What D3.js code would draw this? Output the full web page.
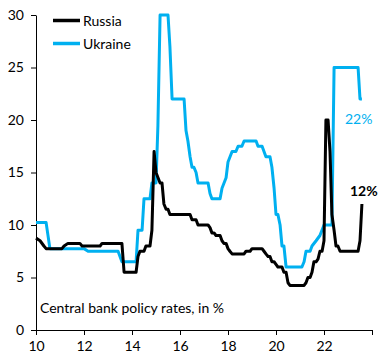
<!DOCTYPE html>
<html><head><meta charset="utf-8">
<script src="https://cdn.jsdelivr.net/npm/d3@7"></script>
<style>body{margin:0;background:#fff}svg{display:block}text{font-family:Lato,"Open Sans",sans-serif}</style>
</head><body>
<svg id="c" width="384" height="360"></svg>
<script>
const xTicks = [10, 12, 14, 16, 18, 20, 22, 24];
const xTickLabels = ["10", "12", "14", "16", "18", "20", "22", ""];
const yTicks = [0, 5, 10, 15, 20, 25, 30];
const seriesNames = ["Russia", "Ukraine"];
const seriesColors = ["#000000", "#00B0F0"];
const endLabels = ["12%", "22%"];
const title = "Central bank policy rates, in %";

// [year (decimal, 10 = 2010), rate %]
const russia = [[10.0,8.75],[10.17,8.5],[10.33,8.0],[10.42,7.75],[11.08,7.75],[11.17,8.0],[11.33,8.25],[11.83,8.25],[11.92,8.0],[12.67,8.0],[12.75,8.25],[13.58,8.25],[13.67,5.5],[14.17,5.5],[14.25,7.0],[14.33,7.5],[14.5,7.5],[14.58,8.0],[14.75,8.0],[14.83,9.5],[14.92,17.0],[15.0,15.0],[15.17,14.0],[15.25,14.0],[15.33,12.0],[15.42,11.5],[15.5,11.5],[15.58,11.0],[16.42,11.0],[16.5,10.5],[16.67,10.5],[16.75,10.0],[17.17,10.0],[17.25,9.75],[17.33,9.25],[17.42,9.25],[17.5,9.0],[17.67,9.0],[17.75,8.5],[17.83,8.25],[17.92,8.25],[18.0,7.75],[18.08,7.5],[18.17,7.25],[18.67,7.25],[18.75,7.5],[18.92,7.5],[19.0,7.75],[19.42,7.75],[19.5,7.5],[19.58,7.25],[19.67,7.0],[19.75,7.0],[19.83,6.5],[19.92,6.5],[20.0,6.25],[20.08,6.0],[20.25,6.0],[20.33,5.5],[20.42,5.5],[20.5,4.5],[20.58,4.25],[21.17,4.25],[21.25,4.5],[21.33,5.0],[21.42,5.0],[21.5,5.5],[21.58,6.5],[21.67,6.5],[21.75,6.75],[21.83,7.5],[21.92,7.5],[22.0,8.5],[22.08,20.0],[22.17,20.0],[22.25,17.0],[22.33,11.0],[22.42,9.5],[22.5,8.0],[22.58,8.0],[22.67,7.5],[23.42,7.5],[23.5,8.5],[23.58,12.0]];
const ukraine = [[10.0,10.25],[10.42,10.25],[10.58,7.75],[12.0,7.75],[12.17,7.5],[13.42,7.5],[13.5,7.0],[13.58,6.5],[14.17,6.5],[14.25,9.5],[14.42,9.5],[14.5,12.5],[14.75,12.5],[14.83,14.0],[15.0,14.0],[15.08,19.5],[15.17,30.0],[15.5,30.0],[15.58,27.0],[15.67,22.0],[16.17,22.0],[16.25,19.0],[16.33,18.0],[16.42,16.5],[16.5,15.5],[16.58,15.5],[16.67,15.0],[16.75,14.0],[17.17,14.0],[17.25,13.0],[17.33,12.5],[17.67,12.5],[17.75,13.5],[17.92,14.5],[18.0,16.0],[18.17,17.0],[18.33,17.0],[18.42,17.5],[18.58,17.5],[18.67,18.0],[19.17,18.0],[19.25,17.5],[19.42,17.5],[19.5,17.0],[19.58,16.5],[19.75,16.5],[19.83,15.5],[19.92,13.5],[20.0,11.0],[20.08,11.0],[20.17,10.0],[20.25,8.0],[20.33,8.0],[20.42,6.0],[21.08,6.0],[21.17,6.5],[21.25,7.5],[21.42,7.5],[21.5,8.0],[21.67,8.5],[21.83,9.0],[22.0,10.0],[22.33,10.0],[22.42,25.0],[23.42,25.0],[23.5,22.0],[23.58,22.0]];

const svg = d3.select("#c");
const x = d3.scaleLinear().domain([10, 24]).range([36, 372]);
const y = d3.scaleLinear().domain([0, 30]).range([330, 15]);

const xAxis = svg.append("g").attr("transform", `translate(0,${y(0)})`)
  .call(d3.axisBottom(x).tickValues(xTicks).tickFormat((d, i) => xTickLabels[i]).tickSize(5).tickSizeOuter(0).tickPadding(6));
const yAxis = svg.append("g").attr("transform", `translate(${x(10)},0)`)
  .call(d3.axisLeft(y).tickValues(yTicks).tickSize(5).tickSizeOuter(0).tickPadding(7));
[xAxis, yAxis].forEach(g => {
  g.selectAll("path,line").attr("stroke", "#000").attr("stroke-width", 1);
  g.selectAll("text").attr("fill", "#000").style("font-size", "14px").style("font-family", "Lato, sans-serif");
});

const line = d3.line().x(d => x(d[0])).y(d => y(d[1]));
const data = [russia, ukraine];
[1, 0].forEach(i => {
  svg.append("path").datum(data[i]).attr("d", line)
    .attr("fill", "none").attr("stroke", seriesColors[i]).attr("stroke-width", 3)
    .attr("stroke-linejoin", "round");
});

// legend
seriesNames.forEach((n, i) => {
  const ly = 20.5 + i * 23;
  svg.append("line").attr("x1", 53).attr("x2", 80).attr("y1", ly).attr("y2", ly)
    .attr("stroke", seriesColors[i]).attr("stroke-width", 3.5);
  svg.append("text").attr("x", 83).attr("y", ly + 5).text(n)
    .style("font-size", "14px").attr("fill", "#000");
});

// end labels
const rl = russia[russia.length - 1], ul = ukraine[ukraine.length - 1];
svg.append("text").attr("x", x(rl[0]) - 12).attr("y", y(rl[1]) - 8).text(endLabels[0])
  .style("font-size", "14px").style("font-weight", "bold").attr("fill", "#000");
svg.append("text").attr("x", x(ul[0]) - 17).attr("y", y(ul[1]) + 25).text(endLabels[1])
  .style("font-size", "14px").attr("fill", seriesColors[1]);

svg.append("text").attr("x", 40).attr("y", 313).text(title)
  .style("font-size", "14px").attr("fill", "#000");
</script>
</body></html>
